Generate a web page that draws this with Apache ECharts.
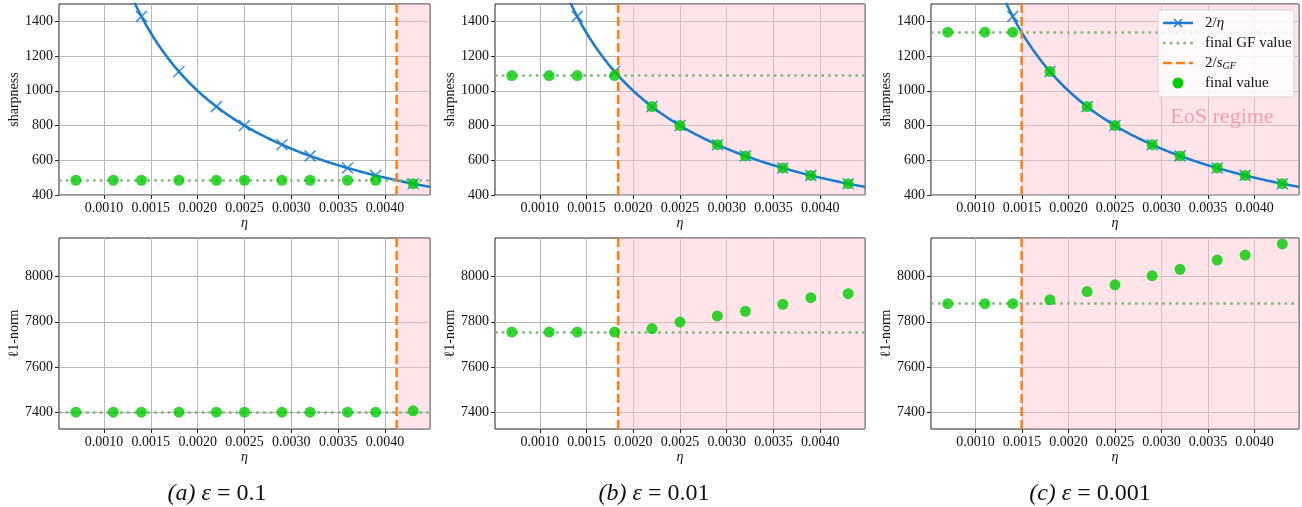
<!DOCTYPE html>
<html>
<head>
<meta charset="utf-8">
<title>Sharpness and l1-norm vs step size</title>
<script src="https://cdn.jsdelivr.net/npm/echarts@6/dist/echarts.min.js"></script>
<style>
  html, body { margin: 0; padding: 0; background: #fff; }
  #chart { width: 1302px; height: 507px; }
</style>
</head>
<body>
<div id="chart"></div>
<script>
// Step sizes used in every run
const ETA = [0.0007, 0.0011, 0.0014, 0.0018, 0.0022, 0.0025, 0.0029, 0.0032, 0.0036, 0.0039, 0.0043];

// Panel captions
const PANEL_TAGS = ['(a)', '(b)', '(c)'];
const EPS_LABELS = ['0.1', '0.01', '0.001'];

// Final sharpness reached by gradient flow (one per epsilon)
const GF_SHARPNESS = [485, 1088, 1338];
// Final l1-norm reached by gradient flow (one per epsilon)
const GF_L1 = [7402, 7755, 7880];

// Final sharpness after GD for each step size
const SHARP_A = [485, 485, 485, 485, 485, 485, 485, 485, 485, 485, 465];
const SHARP_B = [1088, 1088, 1088, 1088, 909, 800, 690, 625, 556, 513, 465];
const SHARP_C = [1338, 1338, 1338, 1111, 909, 800, 690, 625, 556, 513, 465];

// Final l1-norm after GD for each step size
const L1_A = [7402, 7402, 7402, 7402, 7402, 7402, 7402, 7402, 7402, 7402, 7408];
const L1_B = [7755, 7755, 7755, 7755, 7770, 7799, 7826, 7846, 7877, 7906, 7924];
const L1_C = [7880, 7880, 7880, 7897, 7933, 7963, 8003, 8031, 8072, 8094, 8143];

// Tick labels
const ETA_TICKS = [0.0010, 0.0015, 0.0020, 0.0025, 0.0030, 0.0035, 0.0040];
const SHARP_TICKS = [400, 600, 800, 1000, 1200, 1400];
const L1_TICKS = [7400, 7600, 7800, 8000];

const SHARP = [SHARP_A, SHARP_B, SHARP_C];
const L1 = [L1_A, L1_B, L1_C];

// Axis limits
const ETA_MIN = 0.00052, ETA_MAX = 0.00448;
const SHARP_MIN = 400, SHARP_MAX = 1500;
const L1_MIN = 7328, L1_MAX = 8169;

// Stability threshold curve 2/eta, sampled across the visible eta range
const CURVE = [];
for (let i = 0; i <= 400; i++) {
  const e = ETA_MIN + (ETA_MAX - ETA_MIN) * i / 400;
  CURVE.push([e, 2 / e]);
}

const SERIF = '"Liberation Serif", "DejaVu Serif", serif';
const BLUE = '#1a7bd2';
const ORANGE = '#ff7f0e';
const DOT_GREEN = '#00cc00';
const GF_GREEN = '#82b482';
const PINK = 'rgba(255,192,203,0.42)';
const GRID_GRAY = '#b8b8b8';
const INK = '#111';

const CROSS = 'path://M0,0L10,10M10,0L0,10';

const LEFTS = [59, 495, 931];
const WIDTHS = [371, 370, 368];
const TOPS = [4, 238];
const HEIGHT = 191;

const grids = [], xAxes = [], yAxes = [], series = [];

function xAxisFor(idx) {
  return {
    type: 'value', gridIndex: idx, min: ETA_MIN, max: ETA_MAX,
    name: 'η', nameLocation: 'middle', nameGap: 21,
    nameTextStyle: { fontFamily: SERIF, fontSize: 14, fontStyle: 'italic', color: INK },
    axisLine: { show: false },
    axisTick: { show: true, length: 4, customValues: ETA_TICKS, lineStyle: { color: '#222', width: 1 } },
    axisLabel: { customValues: ETA_TICKS, formatter: v => v.toFixed(4), fontFamily: SERIF, fontSize: 14, color: INK, margin: 6 },
    splitLine: { show: true, lineStyle: { color: GRID_GRAY, width: 1 } }
  };
}

function yAxisFor(idx, top) {
  return {
    type: 'value', gridIndex: idx,
    min: top ? SHARP_MIN : L1_MIN, max: top ? SHARP_MAX : L1_MAX,
    name: top ? 'sharpness' : 'ℓ1-norm', nameLocation: 'middle', nameGap: 33,
    nameTextStyle: { fontFamily: SERIF, fontSize: 14, color: INK },
    axisLine: { show: false },
    axisTick: { show: true, length: 4, customValues: top ? SHARP_TICKS : L1_TICKS, lineStyle: { color: '#222', width: 1 } },
    axisLabel: { customValues: top ? SHARP_TICKS : L1_TICKS, formatter: v => String(v), fontFamily: SERIF, fontSize: 14, color: INK, margin: 6 },
    splitLine: { show: true, lineStyle: { color: GRID_GRAY, width: 1 } }
  };
}

for (let row = 0; row < 2; row++) {
  for (let col = 0; col < 3; col++) {
    const idx = row * 3 + col;
    const top = row === 0;
    grids.push({
      left: LEFTS[col], top: TOPS[row], width: WIDTHS[col], height: HEIGHT,
      show: true, borderColor: '#222', borderWidth: 1, backgroundColor: 'transparent'
    });
    xAxes.push(xAxisFor(idx));
    yAxes.push(yAxisFor(idx, top));

    const sGF = GF_SHARPNESS[col];
    const threshold = 2 / sGF;
    const gfLevel = top ? GF_SHARPNESS[col] : GF_L1[col];
    const finals = top ? SHARP[col] : L1[col];
    const yLo = top ? SHARP_MIN : L1_MIN;
    const yHi = top ? SHARP_MAX : L1_MAX;

    // EoS region: step sizes beyond 2/s_GF
    series.push({
      type: 'line', xAxisIndex: idx, yAxisIndex: idx, data: [], z: 1, silent: true,
      markArea: { silent: true, itemStyle: { color: PINK }, data: [[{ xAxis: threshold }, { xAxis: ETA_MAX }]] }
    });
    // Gradient-flow reference level
    series.push({
      type: 'line', xAxisIndex: idx, yAxisIndex: idx, data: [], z: 2, silent: true,
      markLine: {
        silent: true, symbol: ['none', 'none'], label: { show: false },
        lineStyle: { color: GF_GREEN, width: 2.6, type: [2.6, 4.2] },
        data: [{ yAxis: gfLevel }]
      }
    });
    if (top) {
      series.push({
        name: '2/η', type: 'line', xAxisIndex: idx, yAxisIndex: idx, data: CURVE, z: 3,
        showSymbol: false, clip: true, silent: true, lineStyle: { color: BLUE, width: 2.6 }
      });
    }
    // 2/s_GF threshold, spanning the full panel height
    series.push({
      type: 'line', xAxisIndex: idx, yAxisIndex: idx, z: 4, silent: true,
      data: [[threshold, yLo], [threshold, yHi]], showSymbol: false, clip: true,
      lineStyle: { color: ORANGE, width: 2.5, type: [9, 4] }
    });
    if (top) {
      series.push({
        type: 'scatter', xAxisIndex: idx, yAxisIndex: idx, z: 5, clip: true, silent: true,
        data: ETA.map(e => [e, 2 / e]),
        symbol: CROSS, symbolSize: 11,
        itemStyle: { color: 'rgba(0,0,0,0)', borderColor: BLUE, borderWidth: 1.6 }
      });
    }
    series.push({
      name: 'final value', type: 'scatter', xAxisIndex: idx, yAxisIndex: idx, z: 6, clip: true, silent: true,
      data: ETA.map((e, i) => [e, finals[i]]),
      symbol: 'circle', symbolSize: 11,
      itemStyle: { color: DOT_GREEN }
    });
  }
}

// Legend (drawn in the top-right panel) and annotations
const LX = 1158, LY = 10, LZ = 100;
const legendItems = [
  { type: 'rect', shape: { x: LX, y: LY, width: 136, height: 87, r: 3 },
    style: { fill: 'rgba(255,255,255,0.8)', stroke: '#d4d4d4', lineWidth: 1 } },
  { type: 'line', shape: { x1: LX + 5, y1: LY + 13, x2: LX + 35, y2: LY + 13 }, style: { stroke: BLUE, lineWidth: 2.5 } },
  { type: 'line', shape: { x1: LX + 16, y1: LY + 9, x2: LX + 24, y2: LY + 17 }, style: { stroke: BLUE, lineWidth: 1.5 } },
  { type: 'line', shape: { x1: LX + 24, y1: LY + 9, x2: LX + 16, y2: LY + 17 }, style: { stroke: BLUE, lineWidth: 1.5 } },
  { type: 'line', shape: { x1: LX + 5, y1: LY + 33, x2: LX + 35, y2: LY + 33 }, style: { stroke: GF_GREEN, lineWidth: 2.6, lineDash: [2.6, 4.2] } },
  { type: 'line', shape: { x1: LX + 5, y1: LY + 53, x2: LX + 35, y2: LY + 53 }, style: { stroke: ORANGE, lineWidth: 2.5, lineDash: [9, 4] } },
  { type: 'circle', shape: { cx: LX + 20, cy: LY + 73, r: 5.5 }, style: { fill: DOT_GREEN } },
  { type: 'text', x: LX + 47, y: LY + 13, style: { text: '2/{i|η}', font: '15px ' + SERIF, fill: INK, textVerticalAlign: 'middle',
    rich: { i: { fontStyle: 'italic', fontSize: 15, fontFamily: SERIF, fill: INK } } } },
  { type: 'text', x: LX + 47, y: LY + 33, style: { text: 'final GF value', font: '15px ' + SERIF, fill: INK, textVerticalAlign: 'middle' } },
  { type: 'text', x: LX + 47, y: LY + 53, style: { text: '2/{i|s}{sub|GF}', font: '15px ' + SERIF, fill: INK, textVerticalAlign: 'middle',
    rich: { i: { fontStyle: 'italic', fontSize: 15, fontFamily: SERIF, fill: INK },
            sub: { fontStyle: 'italic', fontSize: 10, fontFamily: SERIF, fill: INK, padding: [7, 0, 0, 0] } } } },
  { type: 'text', x: LX + 47, y: LY + 73, style: { text: 'final value', font: '15px ' + SERIF, fill: INK, textVerticalAlign: 'middle' } }
];
legendItems.forEach((el, i) => { el.z = LZ + i; });

const graphics = legendItems.concat([{
  type: 'text', z: 90, x: 1222, y: 117,
  style: { text: 'EoS regime', font: '22px ' + SERIF, fill: '#f6a0ab', textAlign: 'center', textVerticalAlign: 'middle' }
}]);

const CAPTION_X = [217, 654, 1090];
PANEL_TAGS.forEach((tag, i) => {
  graphics.push({
    type: 'text', z: 90, x: CAPTION_X[i], y: 494,
    style: {
      text: '{i|' + tag + '} {i|ε} = ' + EPS_LABELS[i],
      font: '24px ' + SERIF, fill: INK, textAlign: 'center', textVerticalAlign: 'middle',
      rich: { i: { fontStyle: 'italic', fontSize: 24, fontFamily: SERIF, fill: INK } }
    }
  });
});

const chart = echarts.init(document.getElementById('chart'), null, { renderer: 'canvas' });
chart.setOption({
  animation: false,
  backgroundColor: '#fff',
  grid: grids,
  xAxis: xAxes,
  yAxis: yAxes,
  series: series,
  graphic: graphics
});
</script>
</body>
</html>
